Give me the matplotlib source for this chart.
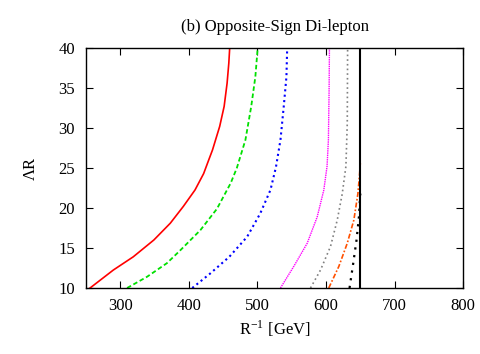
import matplotlib
matplotlib.use("Agg")
import matplotlib.pyplot as plt

# curves: (R^-1 [GeV], Lambda R)
red_x = [256, 290, 319, 349, 373, 392, 409, 421.6, 429, 434.5, 445, 451.5, 455.8, 458.3, 459.6]
red_y = [10, 12.25, 13.9, 16, 18.1, 20.2, 22.25, 24.3, 26, 27.25, 30.2, 32.7, 35.6, 38.1, 40]

green_x = [310, 339, 368, 388, 417, 441, 461, 470, 482.5, 491, 497, 500.4]
green_y = [10, 11.4, 13.1, 14.75, 17.25, 19.9, 23.1, 25, 28.5, 32.7, 36.4, 40]

blue_x = [405, 431, 459, 485, 504, 519, 527, 533.6, 538.4, 542.3, 543.4]
blue_y = [10, 11.8, 13.9, 16.4, 19.3, 22.25, 25.1, 28.5, 32.7, 36.4, 40]

magenta_x = [533.6, 553, 572.6, 587.2, 596.8, 601.5, 603.5, 604.5, 605]
magenta_y = [10, 12.7, 15.6, 18.9, 22.25, 25.2, 28.5, 34.75, 40]

gray_x = [577.4, 592, 606.6, 616.4, 623.7, 629, 631, 631.5]
gray_y = [10, 12.25, 15.2, 18.5, 21.8, 25.2, 30.6, 40]

orange_x = [604, 618.7, 631, 640.6, 646.5, 649, 650]
orange_y = [10, 12.7, 15.6, 18.5, 21.8, 24.3, 25.6]

black_x = [634.3, 639.7, 644.5, 648, 650]
black_y = [10, 13.1, 16, 18.9, 21.8]

bound_x = [650, 650]
bound_y = [10, 40]

plt.rcParams['font.family'] = ['Liberation Serif', 'DejaVu Serif']
plt.rcParams['mathtext.fontset'] = 'stix'

fig = plt.figure(figsize=(4.8, 3.54), dpi=100)
ax = fig.add_axes([0.179, 0.1864, 0.786, 0.678])

ax.plot(red_x, red_y, color='#ff0000', lw=1.2, ls='-')
ax.plot(green_x, green_y, color='#00e000', lw=1.3, ls=(0, (2.5, 1.5)))
ax.plot(blue_x, blue_y, color='#0000ff', lw=1.5, ls=(0, (1, 1.6)))
ax.plot(magenta_x, magenta_y, color='#ff00ff', lw=1.0, ls=(0, (1, 0.6)))
ax.plot(gray_x, gray_y, color='#808080', lw=1.2, ls=(0, (1, 1.8)))
ax.plot(orange_x, orange_y, color='#ff5000', lw=1.2, ls=(0, (3, 1.2, 1, 1.2)))
ax.plot(black_x, black_y, color='black', lw=1.6, ls=(0, (1, 2.5)))
ax.plot(bound_x, bound_y, color='black', lw=1.5, ls='-')

ax.set_xlim(250, 800)
ax.set_ylim(10, 40)
ax.set_xticks([300, 400, 500, 600, 700, 800])
ax.set_yticks([10, 15, 20, 25, 30, 35, 40])
ax.tick_params(direction='in', top=True, right=True, length=5, labelsize=12)
ax.tick_params(axis='x', pad=7)
ax.tick_params(axis='y', pad=8)
for s in ax.spines.values():
    s.set_linewidth(1.0)

ax.set_title('(b) Opposite-Sign Di-lepton', fontsize=12, pad=12)
ax.set_xlabel('R$^{\\mathregular{-1}}$ [GeV]', fontsize=12, labelpad=3)
ax.set_ylabel('\u039bR', fontsize=12, labelpad=14)

fig.savefig('out.png', dpi=100)
